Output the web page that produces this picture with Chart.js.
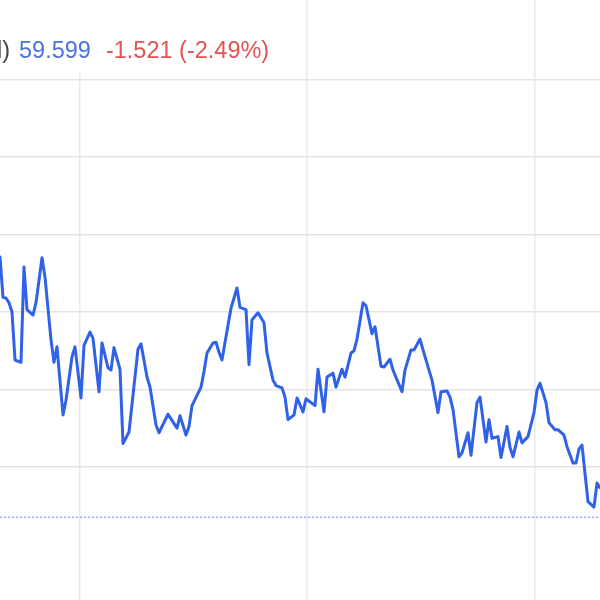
<!DOCTYPE html>
<html>
<head>
<meta charset="utf-8">
<script src="https://cdn.jsdelivr.net/npm/chart.js@4"></script>
<style>
  body { margin: 0; background: #fff; }
  #wrap { width: 600px; height: 600px; }
</style>
</head>
<body>
<div id="wrap"><canvas id="myChart" width="600" height="600"></canvas></div>
<script>
// values (trading day index, price)
const days = [0, 1, 2, 3, 4, 5, 7, 8, 9, 11, 12, 14, 15, 17, 18, 19, 21, 22, 24, 25,
  27, 28, 30, 31, 33, 34, 36, 37, 38, 40, 41, 43, 46, 47, 49, 50, 52, 53, 56, 57,
  59, 60, 62, 63, 64, 67, 68, 69, 71, 72, 73, 74, 76, 77, 79, 80, 82, 83, 84, 86,
  88, 89, 91, 92, 94, 95, 96, 98, 99, 101, 102, 105, 106, 108, 109, 111, 112, 114, 115, 117,
  118, 119, 121, 122, 124, 125, 127, 128, 130, 131, 134, 135, 137, 138, 140, 141, 143, 144, 146, 147,
  149, 150, 151, 153, 154, 156, 157, 159, 160, 162, 163, 164, 166, 167, 169, 170, 171, 173, 174, 176,
  178, 179, 180, 182, 183, 185, 186, 188, 189, 191, 192, 193, 194, 196, 198, 199, 200];
const prices = [62.71, 62.19, 62.18, 62.12, 62.00, 61.38, 61.35, 62.58, 62.03, 61.96, 62.12, 62.70, 62.45, 61.64, 61.35, 61.55, 60.67, 60.86, 61.42, 61.55,
  60.89, 61.57, 61.74, 61.66, 60.97, 61.60, 61.28, 61.25, 61.54, 61.26, 60.30, 60.45, 61.52, 61.59, 61.16, 61.03, 60.54, 60.44, 60.68, 60.62,
  60.50, 60.66, 60.41, 60.52, 60.79, 61.03, 61.23, 61.47, 61.60, 61.61, 61.48, 61.38, 61.83, 62.05, 62.31, 62.06, 62.03, 61.32, 61.90, 61.99,
  61.86, 61.47, 61.12, 61.05, 61.02, 60.90, 60.61, 60.67, 60.89, 60.71, 60.88, 60.79, 61.26, 60.71, 61.16, 61.21, 61.03, 61.26, 61.16, 61.47,
  61.50, 61.65, 62.12, 62.08, 61.72, 61.81, 61.30, 61.29, 61.39, 61.25, 60.97, 61.25, 61.51, 61.51, 61.65, 61.51, 61.25, 61.12, 60.70, 60.97,
  60.98, 60.90, 60.74, 60.13, 60.18, 60.44, 60.15, 60.83, 60.90, 60.32, 60.61, 60.37, 60.39, 60.12, 60.52, 60.25, 60.13, 60.45, 60.31, 60.39,
  60.70, 60.99, 61.08, 60.83, 60.57, 60.48, 60.48, 60.41, 60.26, 60.05, 60.05, 60.23, 60.28, 59.55, 59.48, 59.79, 59.73];
const refLevel = 59.35;
const priceTicks = [60, 61, 62, 63, 64, 65];
const gridDays = [26.67, 102.33, 178.33];
const header = [
  { text: 'l)', color: '#444444' },
  { text: '59.599', color: '#4a72e0' },
  { text: '-1.521 (-2.49%)', color: '#e05452' }
];

const headerPlugin = {
  id: 'header',
  afterDraw(chart) {
    const c = chart.ctx;
    c.save();
    c.fillStyle = '#ffffff';
    c.fillRect(0, 0, 280, 72);
    c.font = '23.5px "Liberation Sans", Arial, sans-serif';
    c.textBaseline = 'alphabetic';
    let x = -3;
    const gaps = [9, 15, 0];
    header.forEach((h, i) => {
      c.fillStyle = h.color;
      c.fillText(h.text, x, 58);
      x += c.measureText(h.text).width + gaps[i];
    });
    c.restore();
  }
};

const ctx = document.getElementById('myChart');

theChart = new Chart(ctx, {
  type: 'line',
  data: {
    datasets: [{
      label: 'price',
      data: days.map((d, i) => ({ x: d, y: prices[i] })),
      borderColor: '#2f62e8',
      borderWidth: 3,
      borderJoinStyle: 'round',
      borderCapStyle: 'round',
      pointRadius: 0,
      tension: 0
    },
    {
      label: 'ref',
      data: [{ x: 0, y: refLevel }, { x: 200, y: refLevel }],
      borderColor: '#5a80ea',
      borderWidth: 1,
      borderDash: [2, 2],
      pointRadius: 0
    }]
  },
  options: {
    responsive: false,
    animation: false,
    layout: { padding: 0 },
    plugins: {
      legend: { display: false },
      tooltip: { enabled: false }
    },
    scales: {
      x: {
        type: 'linear',
        min: 0,
        max: 200,
        afterBuildTicks: s => { s.ticks = gridDays.map(v => ({ value: v })); },
        ticks: { display: false },
        border: { display: false },
        grid: { color: '#e8e8e8', lineWidth: 1.5, drawTicks: false }
      },
      y: {
        min: 58.28,
        max: 66.03,
        afterBuildTicks: s => { s.ticks = priceTicks.map(v => ({ value: v })); },
        ticks: { display: false },
        border: { display: false },
        grid: { color: '#e4e4e4', lineWidth: 1.5, drawTicks: false }
      }
    }
  },
  plugins: [headerPlugin]
});
</script>
</body>
</html>
